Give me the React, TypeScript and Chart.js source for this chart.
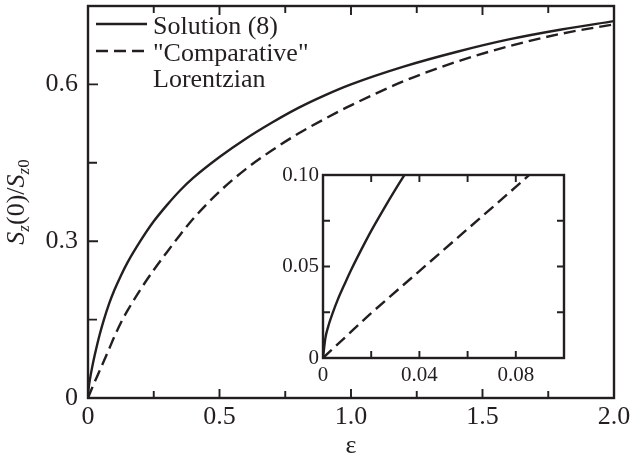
import { useEffect, useRef } from 'react';
import { Chart, registerables } from 'chart.js';

Chart.register(...registerables);

// ---- data ----
const solutionEps = [0, 0.001, 0.002, 0.004, 0.006, 0.009, 0.012, 0.016, 0.02, 0.025, 0.03, 0.035, 0.045, 0.06, 0.08, 0.1, 0.125, 0.15, 0.2, 0.25, 0.3, 0.35, 0.4, 0.5, 0.6, 0.7, 0.8, 0.9, 1.0, 1.2, 1.4, 1.6, 1.8, 2.0];
const solution8 = [0, 0.011, 0.0165, 0.0245, 0.0315, 0.0405, 0.049, 0.0595, 0.0695, 0.081, 0.092, 0.1025, 0.1225, 0.149, 0.18, 0.206, 0.234, 0.259, 0.301, 0.338, 0.369, 0.397, 0.421, 0.461, 0.496, 0.527, 0.555, 0.579, 0.6, 0.634, 0.662, 0.686, 0.705, 0.721];
const lorentzEps = [0, 0.01, 0.02, 0.04, 0.06, 0.08, 0.1, 0.125, 0.15, 0.2, 0.25, 0.3, 0.35, 0.4, 0.5, 0.6, 0.7, 0.8, 0.9, 1.0, 1.2, 1.4, 1.6, 1.8, 2.0];
const lorentzian = [0, 0.0123, 0.0245, 0.0475, 0.0705, 0.0935, 0.117, 0.144, 0.167, 0.208, 0.245, 0.279, 0.312, 0.343, 0.395, 0.438, 0.474, 0.506, 0.534, 0.56, 0.606, 0.643, 0.673, 0.697, 0.715];
const seriesLabels = ['Solution (8)', '"Comparative"\nLorentzian'];

const mainXTicks = [0, 0.5, 1, 1.5, 2];
const mainXTickLabels = ['0', '0.5', '1.0', '1.5', '2.0'];
const mainXMinor = [0.25, 0.75, 1.25, 1.75];
const mainYTicks = [0, 0.3, 0.6];
const mainYTickLabels = ['0', '0.3', '0.6'];
const mainYMinor = [0.15, 0.45];

const insetXTicks = [0, 0.04, 0.08];
const insetXTickLabels = ['0', '0.04', '0.08'];
const insetXMinor = [0.02, 0.06];
const insetYTicks = [0, 0.05, 0.1];
const insetYTickLabels = ['0', '0.05', '0.10'];
const insetYMinor = [0.025, 0.075];

const INK = '#231f20';
const SERIF = '"Liberation Serif", "Times New Roman", serif';
const DASH = [12, 6];

type Marks = { vals: number[]; len: number };
function makeFramePlugin(id: string, lw: number, xMarks: Marks[], xTop: boolean, yMarks: Marks[], yRight: boolean) {
  return {
    id,
    afterDatasetsDraw(chart: any) {
      const { ctx, chartArea: a, scales } = chart;
      ctx.save();
      ctx.strokeStyle = INK;
      ctx.lineWidth = lw;
      ctx.strokeRect(a.left, a.top, a.right - a.left, a.bottom - a.top);
      ctx.beginPath();
      for (const m of xMarks) {
        for (const v of m.vals) {
          const p = scales.x.getPixelForValue(v);
          ctx.moveTo(p, a.bottom);
          ctx.lineTo(p, a.bottom - m.len);
          if (xTop) {
            ctx.moveTo(p, a.top);
            ctx.lineTo(p, a.top + m.len);
          }
        }
      }
      for (const m of yMarks) {
        for (const v of m.vals) {
          const p = scales.y.getPixelForValue(v);
          ctx.moveTo(a.left, p);
          ctx.lineTo(a.left + m.len, p);
          if (yRight) {
            ctx.moveTo(a.right, p);
            ctx.lineTo(a.right - m.len, p);
          }
        }
      }
      ctx.lineWidth = lw * 0.8;
      ctx.stroke();
      ctx.restore();
    },
  };
}

const legendPlugin = {
  id: 'customLegend',
  afterDraw(chart: any) {
    const { ctx, chartArea: a } = chart;
    ctx.save();
    ctx.font = `26px ${SERIF}`;
    ctx.fillStyle = INK;
    ctx.textBaseline = 'middle';
    ctx.textAlign = 'left';
    let y = a.top + 19;
    chart.data.datasets.forEach((ds: any) => {
      ctx.strokeStyle = ds.borderColor;
      ctx.lineWidth = ds.borderWidth;
      ctx.setLineDash(ds.borderDash || []);
      ctx.beginPath();
      ctx.moveTo(a.left + 8, y - 1);
      ctx.lineTo(a.left + 59, y - 1);
      ctx.stroke();
      ctx.setLineDash([]);
      const lines = String(ds.label).split('\n');
      lines.forEach((t: string, i: number) => {
        ctx.fillText(t, a.left + 65, y + 2 + i * 26);
      });
      y += 27 * lines.length;
    });
    ctx.restore();
  },
};

const yTitlePlugin = {
  id: 'yTitle',
  afterDraw(chart: any) {
    const { ctx, chartArea: a } = chart;
    const big = 26;
    const small = 17;
    const parts: { t: string; italic: boolean; sub: boolean }[] = [
      { t: 'S', italic: true, sub: false },
      { t: 'z', italic: true, sub: true },
      { t: '(0)/', italic: false, sub: false },
      { t: 'S', italic: true, sub: false },
      { t: 'z', italic: true, sub: true },
      { t: '0', italic: false, sub: true },
    ];
    const fontOf = (p: any) => `${p.italic ? 'italic ' : ''}${p.sub ? small : big}px ${SERIF}`;
    ctx.save();
    let total = 0;
    for (const p of parts) {
      ctx.font = fontOf(p);
      total += ctx.measureText(p.t).width;
    }
    ctx.translate(24, (a.top + a.bottom) / 2);
    ctx.rotate(-Math.PI / 2);
    ctx.fillStyle = INK;
    ctx.textBaseline = 'alphabetic';
    ctx.textAlign = 'left';
    let x = -total / 2;
    for (const p of parts) {
      ctx.font = fontOf(p);
      ctx.fillText(p.t, x, p.sub ? 5 : 0);
      x += ctx.measureText(p.t).width;
    }
    ctx.restore();
  },
};

function makeDatasets() {
  return [
    {
      label: seriesLabels[0],
      data: solutionEps.map((x, i) => ({ x, y: solution8[i] })),
      borderColor: INK,
      borderWidth: 2.4,
      pointRadius: 0,
      fill: false,
      cubicInterpolationMode: 'monotone' as const,
    },
    {
      label: seriesLabels[1],
      data: lorentzEps.map((x, i) => ({ x, y: lorentzian[i] })),
      borderColor: INK,
      borderWidth: 2.4,
      borderDash: DASH,
      pointRadius: 0,
      fill: false,
      cubicInterpolationMode: 'monotone' as const,
    },
  ];
}

function tickFont(size: number) {
  return { family: SERIF, size, weight: 'normal' as const };
}

const noPadY = (w: number) => (s: any) => {
  s.width = w;
  s.paddingTop = 0;
  s.paddingBottom = 0;
};
const noPadX = (h: number) => (s: any) => {
  s.height = h;
  s.paddingLeft = 0;
  s.paddingRight = 0;
};

export default function App() {
  const mainRef = useRef<HTMLCanvasElement>(null);
  const insetRef = useRef<HTMLCanvasElement>(null);

  useEffect(() => {
    const main = new Chart(mainRef.current!, {
      type: 'line',
      data: { datasets: makeDatasets() as any },
      options: {
        animation: false,
        responsive: false,
        devicePixelRatio: 1,
        layout: { padding: { left: 0, right: 20, top: 6, bottom: 0 } },
        plugins: { legend: { display: false }, tooltip: { enabled: false } },
        scales: {
          x: {
            type: 'linear',
            min: 0,
            max: 2,
            afterBuildTicks: (s: any) => {
              s.ticks = mainXTicks.map((v) => ({ value: v }));
            },
            afterFit: noPadX(64),
            grid: { display: false, drawTicks: false },
            border: { display: false },
            ticks: {
              padding: 4,
              color: INK,
              font: tickFont(26),
              maxRotation: 0,
              autoSkip: false,
              callback: (v: any) => mainXTickLabels[mainXTicks.indexOf(Number(v))],
            },
            title: { display: true, text: 'ε', color: INK, font: tickFont(26), padding: { top: 0, bottom: 0 } },
          },
          y: {
            type: 'linear',
            min: 0,
            max: 0.75,
            afterBuildTicks: (s: any) => {
              s.ticks = mainYTicks.map((v) => ({ value: v }));
            },
            afterFit: noPadY(88),
            grid: { display: false, drawTicks: false },
            border: { display: false },
            ticks: {
              padding: 10,
              color: INK,
              font: tickFont(26),
              autoSkip: false,
              callback: (v: any) => mainYTickLabels[mainYTicks.indexOf(Number(v))],
            },
          },
        },
      } as any,
      plugins: [
        makeFramePlugin('mainFrame', 2.4,
          [{ vals: mainXTicks, len: 9 }, { vals: mainXMinor, len: 7 }], true,
          [{ vals: mainYTicks, len: 10 }, { vals: mainYMinor, len: 9 }], false),
        legendPlugin,
        yTitlePlugin,
      ],
    });

    const inset = new Chart(insetRef.current!, {
      type: 'line',
      data: { datasets: makeDatasets() as any },
      options: {
        animation: false,
        responsive: false,
        devicePixelRatio: 1,
        layout: { padding: { left: 0, right: 6, top: 15, bottom: 0 } },
        plugins: { legend: { display: false }, tooltip: { enabled: false } },
        scales: {
          x: {
            type: 'linear',
            min: 0,
            max: 0.1,
            afterBuildTicks: (s: any) => {
              s.ticks = insetXTicks.map((v) => ({ value: v }));
            },
            afterFit: noPadX(32),
            grid: { display: false, drawTicks: false },
            border: { display: false },
            ticks: {
              padding: 5,
              color: INK,
              font: tickFont(21),
              maxRotation: 0,
              autoSkip: false,
              callback: (v: any) => insetXTickLabels[insetXTicks.indexOf(Number(v))],
            },
          },
          y: {
            type: 'linear',
            min: 0,
            max: 0.1,
            afterBuildTicks: (s: any) => {
              s.ticks = insetYTicks.map((v) => ({ value: v }));
            },
            afterFit: noPadY(53),
            grid: { display: false, drawTicks: false },
            border: { display: false },
            ticks: {
              padding: 4,
              color: INK,
              font: tickFont(21),
              autoSkip: false,
              callback: (v: any) => insetYTickLabels[insetYTicks.indexOf(Number(v))],
            },
          },
        },
      } as any,
      plugins: [
        makeFramePlugin('insetFrame', 2.4,
          [{ vals: insetXTicks, len: 7 }, { vals: insetXMinor, len: 7 }], true,
          [{ vals: insetYTicks, len: 7 }, { vals: insetYMinor, len: 7 }], true),
      ],
    });

    return () => {
      main.destroy();
      inset.destroy();
    };
  }, []);

  return (
    <div style={{ position: 'fixed', left: 0, top: 0, width: 634, height: 462, background: '#fff' }}>
      <canvas ref={mainRef} width={634} height={462} style={{ position: 'absolute', left: 0, top: 0, width: 634, height: 462 }} />
      <canvas ref={insetRef} width={300} height={230} style={{ position: 'absolute', left: 270, top: 160, width: 300, height: 230 }} />
    </div>
  );
}
